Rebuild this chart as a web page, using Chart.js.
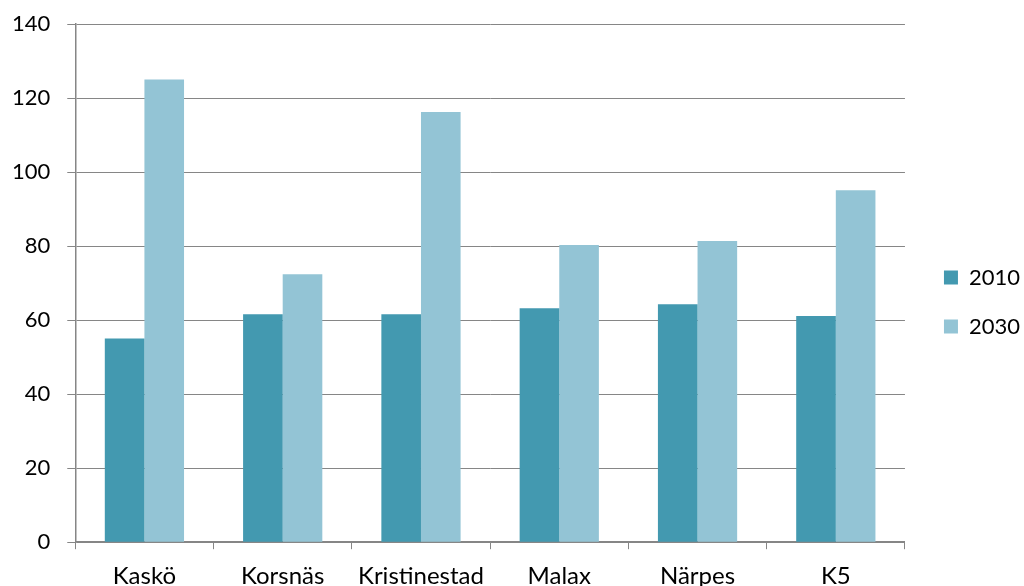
<!DOCTYPE html>
<html>
<head>
<meta charset="utf-8">
<script src="https://cdn.jsdelivr.net/npm/chart.js@4/dist/chart.umd.min.js"></script>
<style>
html,body{margin:0;padding:0;background:#fff;}
#wrap{width:1024px;height:586px;}
</style>
</head>
<body>
<div id="wrap"><canvas id="c" width="1024" height="586"></canvas></div>
<script>
const categories = ["Kaskö", "Korsnäs", "Kristinestad", "Malax", "Närpes", "K5"];
const values2010 = [55, 61.6, 61.6, 63.2, 64.3, 61.1];
const values2030 = [125, 72.4, 116.2, 80.3, 81.4, 95.1];
const seriesNames = ["2010", "2030"];
const yTicks = [0, 20, 40, 60, 80, 100, 120, 140];

const gray = "#868686";
const family = "Lato, 'Open Sans', sans-serif";
const font = {family: family, size: 22};
const xFont = {family: family, size: 24};

const legendShift = {
  id: "legendShift",
  afterLayout(chart) {
    const lg = chart.legend;
    if (lg) { lg.left += 12; lg.right += 12; }
  }
};

new Chart(document.getElementById("c"), {
  type: "bar",
  data: {
    labels: categories,
    datasets: [
      {label: seriesNames[0], data: values2010, backgroundColor: "#4399B0"},
      {label: seriesNames[1], data: values2030, backgroundColor: "#93C4D5"}
    ]
  },
  plugins: [legendShift],
  options: {
    responsive: false,
    animation: false,
    devicePixelRatio: 1,
    layout: {padding: {top: 0, left: -5, right: 6, bottom: -18}},
    datasets: {bar: {categoryPercentage: 0.573, barPercentage: 1}},
    plugins: {
      tooltip: {enabled: false},
      legend: {
        position: "right",
        align: "center",
        labels: {font: font, color: "#000", boxWidth: 14, boxHeight: 14, padding: 27}
      }
    },
    scales: {
      x: {
        grid: {display: true, drawOnChartArea: false, drawTicks: true, tickLength: 7, color: gray, offset: true},
        border: {display: true, color: gray, width: 1.5},
        ticks: {font: xFont, color: "#000", padding: 13, maxRotation: 0, autoSkip: false}
      },
      y: {
        min: 0, max: 140,
        afterBuildTicks: (axis) => { axis.ticks = yTicks.map(v => ({value: v})); },
        afterFit: (axis) => { axis.paddingTop = 24; },
        grid: {color: gray, tickLength: 8, drawTicks: true},
        border: {display: true, color: gray, width: 1.5},
        ticks: {font: font, color: "#000", padding: 17}
      }
    }
  }
});
</script>
</body>
</html>
